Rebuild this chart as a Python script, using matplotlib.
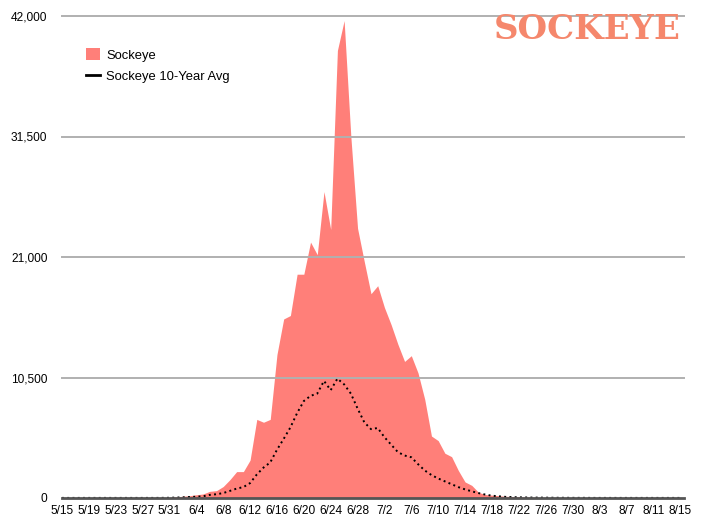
import matplotlib
matplotlib.use("Agg")
import matplotlib.pyplot as plt
from matplotlib.patches import Patch
from matplotlib.lines import Line2D
import numpy as np
import datetime as dt

# ---- data ----
start = dt.date(2000, 5, 15)
n_days = 93
dates = [start + dt.timedelta(days=i) for i in range(n_days)]
day_labels = [f"{d.month}/{d.day}" for d in dates]

sockeye = [
    20, 20, 20, 20, 20, 20, 20, 20, 20, 20,          # 5/15-5/24
    20, 20, 20, 20, 20, 30, 50, 100, 150, 200,       # 5/25-6/3
    280, 350, 580, 640, 1000, 1600, 2300, 2300, 3300, 6850,   # 6/4-6/13
    6600, 6850, 12500, 15600, 15900, 19500, 19500, 22300, 21200, 26700,  # 6/14-6/23
    23400, 39000, 41600, 31500, 23500, 20600, 17800, 18500, 16600, 15100,  # 6/24-7/3
    13400, 11900, 12400, 10900, 8600, 5400, 5000, 3900, 3600, 2400,  # 7/4-7/13
    1400, 1100, 500, 300, 250, 200, 150, 130, 100, 80,  # 7/14-7/23
    60, 50, 45, 40, 35, 30, 30, 25, 25, 20,           # 7/24-8/2
    20, 20, 20, 20, 20, 20, 20, 20, 20, 20,           # 8/3-8/12
    20, 20, 20,                                       # 8/13-8/15
]

avg10 = [
    10, 10, 10, 10, 10, 10, 10, 10, 10, 10,
    10, 10, 10, 10, 10, 15, 20, 40, 60, 90,
    110, 150, 270, 330, 430, 620, 820, 950, 1300, 2050,
    2650, 3100, 4200, 5150, 6150, 7400, 8450, 8900, 9100, 10200,
    9400, 10400, 9900, 9100, 7800, 6600, 6000, 6100, 5300, 4650,
    4000, 3700, 3550, 2950, 2400, 2000, 1700, 1450, 1200, 950,
    750, 580, 430, 300, 200, 150, 100, 80, 60, 50,
    40, 35, 30, 25, 20, 20, 15, 15, 15, 10,
    10, 10, 10, 10, 10, 10, 10, 10, 10, 10,
    10, 10, 10,
]

y_ticks = [0, 10500, 21000, 31500, 42000]
y_tick_labels = ["0", "10,500", "21,000", "31,500", "42,000"]

# ---- figure ----
W, H = 703, 520
fig = plt.figure(figsize=(W / 100, H / 100), dpi=100)
plt.rcParams['font.family'] = ['Liberation Sans', 'DejaVu Sans']

x0_px, x1_px = 62, 684
y0_px, y1_px = 498, 16
ax = fig.add_axes([x0_px / W, 1 - y0_px / H, (x1_px - x0_px) / W, (y0_px - y1_px) / H])

x = np.arange(n_days)
per_day = (680 - 62) / 92.0
ax.set_xlim(0, (x1_px - x0_px) / per_day)
ax.set_ylim(0, 42000)

fill_color = "#FF7F79"
ax.fill_between(x, 0, sockeye, color=fill_color, lw=0, zorder=2)

# gridlines on top of fill
for yt in y_ticks[1:]:
    ax.axhline(yt, color="#B0B0B0", lw=1.4, zorder=3, clip_on=False)
ax.axhline(0, color="#555555", lw=2.0, zorder=5, clip_on=False)

ax.plot(x, avg10, color="black", lw=1.4, linestyle=(0, (1.0, 1.7)),
        dash_capstyle="butt", zorder=4)

for s in ax.spines.values():
    s.set_visible(False)

ax.set_yticks(y_ticks)
ax.set_yticklabels(y_tick_labels)
ax.set_xticks(x[::4])
ax.set_xticklabels(day_labels[::4])
ax.tick_params(axis="both", length=0, labelsize=8.6, colors="black")
ax.tick_params(axis="y", pad=10.5)
ax.tick_params(axis="x", pad=5)

handles = [Patch(facecolor=fill_color, edgecolor="none", label="Sockeye"),
           Line2D([0], [0], color="black", lw=2, label="Sockeye 10-Year Avg")]
leg = fig.legend(handles=handles, loc="upper left",
                 bbox_to_anchor=(76 / W, 1 - 38 / H), frameon=False,
                 fontsize=9.4, handlelength=1.0, handleheight=1.0,
                 handletextpad=0.5, labelspacing=0.6, borderpad=0.3)

fig.text(681 / W, 1 - 29.5 / H, "SOCKEYE", ha="right", va="center",
         fontsize=24.5, fontweight="bold", family="DejaVu Serif",
         color="#F5876C")

fig.savefig("out.png", dpi=100)
